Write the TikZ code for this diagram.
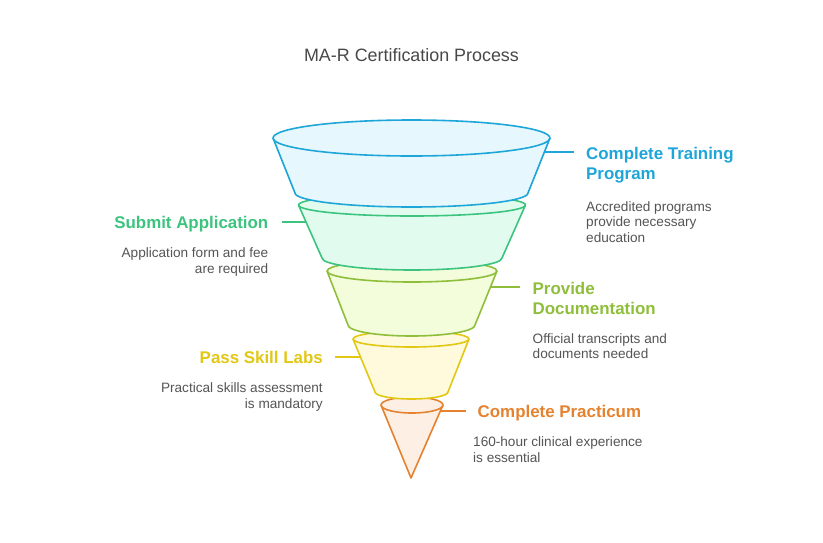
\documentclass[tikz,border=0pt]{standalone}
\usepackage{fontspec}
\setmainfont{Liberation Sans}
\definecolor{cblue}{HTML}{1FA6D9}
\definecolor{fblue}{HTML}{E6F7FE}
\definecolor{cgreen}{HTML}{3CC47F}
\definecolor{fgreen}{HTML}{E1FCEF}
\definecolor{clime}{HTML}{8FBE3B}
\definecolor{flime}{HTML}{F3FDDB}
\definecolor{cyel}{HTML}{E2C714}
\definecolor{fyel}{HTML}{FEFADB}
\definecolor{corange}{HTML}{E5822F}
\definecolor{forange}{HTML}{FDEFE3}
\definecolor{cgray}{HTML}{555555}
\definecolor{ctitle}{HTML}{484848}
\begin{document}
\begin{tikzpicture}[x=1pt,y=1pt,
  seg/.style={line width=1.6pt, line join=round},
  conn/.style={line width=1.6pt},
  head/.style={inner sep=0pt, font=\fontsize{16.9}{21}\selectfont\bfseries},
  desc/.style={inner sep=0pt, text=cgray, font=\fontsize{13.6}{15.5}\selectfont}]
\useasboundingbox (0,0) rectangle (823,-542);
\fill[white] (0,0) rectangle (823,-542);

% title
\node[anchor=base, inner sep=0pt, text=ctitle, font=\fontsize{17.9}{20}\selectfont] (title) at (411.5,-61.5) {MA-R Certification Process};

% orange cone
\filldraw[seg, draw=corange, fill=forange] (381,-405) arc[start angle=180,end angle=0,x radius=31,y radius=8] -- (411,-478) -- cycle;
\draw[seg, draw=corange] (443,-405) arc[start angle=0,end angle=-180,x radius=31,y radius=8];

% yellow
\filldraw[seg, draw=cyel, fill=fyel] (353,-339) arc[start angle=180,end angle=0,x radius=58,y radius=8] -- (448,-392) arc[start angle=0,end angle=-180,x radius=36.5,y radius=7] -- cycle;
\draw[seg, draw=cyel] (469,-339) arc[start angle=0,end angle=-180,x radius=58,y radius=8];

% lime
\filldraw[seg, draw=clime, fill=flime] (327,-271) arc[start angle=180,end angle=0,x radius=85,y radius=11] -- (475,-325) arc[start angle=0,end angle=-180,x radius=63.5,y radius=11] -- cycle;
\draw[seg, draw=clime] (497,-271) arc[start angle=0,end angle=-180,x radius=85,y radius=11];

% green
\filldraw[seg, draw=cgreen, fill=fgreen] (298.5,-205) arc[start angle=180,end angle=0,x radius=113.5,y radius=11] -- (502,-258) arc[start angle=0,end angle=-180,x radius=90,y radius=12] -- cycle;
\draw[seg, draw=cgreen] (525.5,-205) arc[start angle=0,end angle=-180,x radius=113.5,y radius=11];

% blue
\filldraw[seg, draw=cblue, fill=fblue] (273,-138) arc[start angle=180,end angle=0,x radius=138.5,y radius=18] -- (528,-193) arc[start angle=0,end angle=-180,x radius=116.5,y radius=14] -- cycle;
\draw[seg, draw=cblue] (550,-138) arc[start angle=0,end angle=-180,x radius=138.5,y radius=18];

% connectors
\coordinate (b1) at (545,-152); \coordinate (b2) at (574,-152);
\coordinate (g1) at (306,-222); \coordinate (g2) at (282,-222);
\coordinate (l1) at (490,-287); \coordinate (l2) at (520,-287);
\coordinate (y1) at (361,-357); \coordinate (y2) at (335,-357);
\coordinate (o1) at (440,-411); \coordinate (o2) at (466,-411);
\draw[conn, cblue] (b1) -- (b2);
\draw[conn, cgreen] (g1) -- (g2);
\draw[conn, clime] (l1) -- (l2);
\draw[conn, cyel] (y1) -- (y2);
\draw[conn, corange] (o1) -- (o2);

% blue texts
\node[head, text=cblue, anchor=base west] (bh1) at (586,-159) {Complete Training};
\node[head, text=cblue, anchor=base west] (bh2) at (586,-179.5) {Program};
\node[desc, anchor=base west] (bd1) at (586,-211) {Accredited programs};
\node[desc, anchor=base west] (bd2) at (586,-226.5) {provide necessary};
\node[desc, anchor=base west] (bd3) at (586,-242) {education};

% green texts
\node[head, text=cgreen, anchor=base east] (gh1) at (268.5,-228.5) {Submit Application};
\node[desc, anchor=base east] (gd1) at (268.5,-257.5) {Application form and fee};
\node[desc, anchor=base east] (gd2) at (268.5,-273) {are required};

% lime texts
\node[head, text=clime, anchor=base west] (lh1) at (532.5,-294) {Provide};
\node[head, text=clime, anchor=base west] (lh2) at (532.5,-314.5) {Documentation};
\node[desc, anchor=base west] (ld1) at (532.5,-343.3) {Official transcripts and};
\node[desc, anchor=base west] (ld2) at (532.5,-358.8) {documents needed};

% yellow texts
\node[head, text=cyel, anchor=base east] (yh1) at (323,-363.3) {Pass Skill Labs};
\node[desc, anchor=base east] (yd1) at (323,-392.6) {Practical skills assessment};
\node[desc, anchor=base east] (yd2) at (323,-408.1) {is mandatory};

% orange texts
\node[head, text=corange, anchor=base west] (oh1) at (477.5,-417.3) {Complete Practicum};
\node[desc, anchor=base west] (od1) at (473,-446.7) {160-hour clinical experience};
\node[desc, anchor=base west] (od2) at (473,-462.2) {is essential};
\end{tikzpicture}
\end{document}
